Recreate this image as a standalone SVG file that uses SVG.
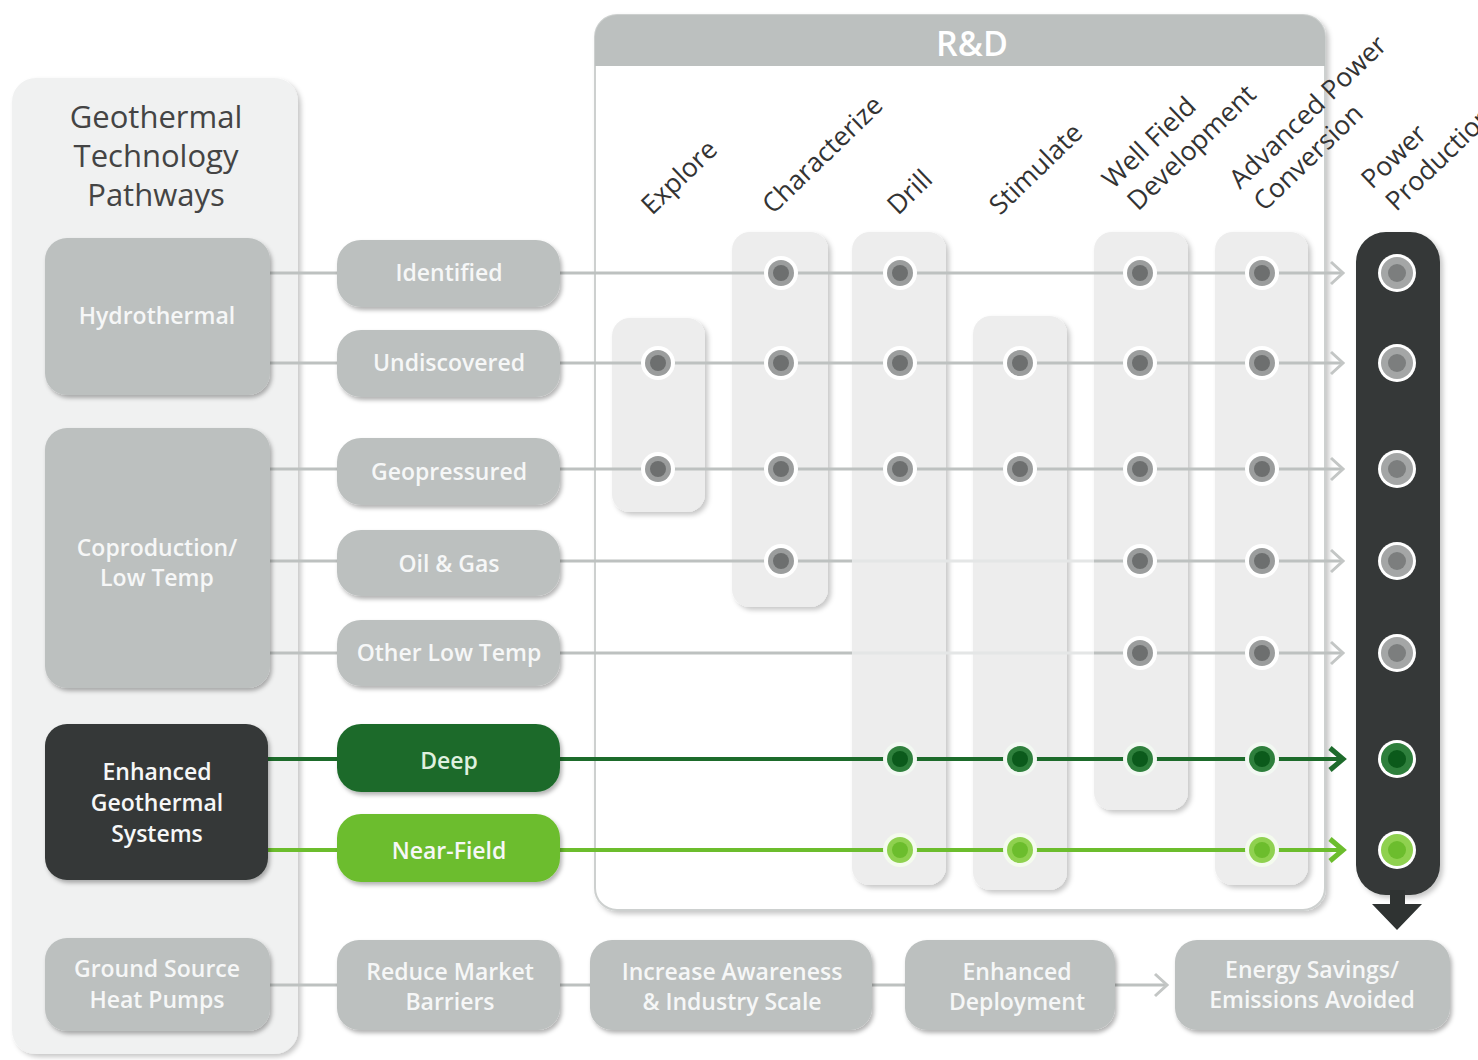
<svg xmlns="http://www.w3.org/2000/svg" xmlns:xlink="http://www.w3.org/1999/xlink" width="1478" height="1060" viewBox="0 0 1478 1060">
<style>
  .lbl { font-family: "Open Sans", "Liberation Sans", sans-serif; font-weight: 600; font-size: 23px; fill: #f6f7f7; text-anchor: middle; }
  .hdr { font-family: "Open Sans", "Liberation Sans", sans-serif; font-size: 26.5px; fill: #333; }
  .title { font-family: "Open Sans", "Liberation Sans", sans-serif; font-size: 31px; fill: #444; text-anchor: middle; }
  .gbox { fill: #bcc0bf; }
  .col { fill: #ededed; }
  .gl { stroke: #bdc1c0; stroke-width: 3; fill: none; }
  .gl2 { stroke: #e4e6e6; stroke-width: 3; fill: none; }
  .dg { stroke: #1d6b2b; stroke-width: 4; fill: none; }
  .lg { stroke: #6cbd2d; stroke-width: 4; fill: none; }
  .chev { stroke: #c3c6c5; stroke-width: 3; fill: none; }
</style>
<defs>
  <filter id="sh" x="-20%" y="-20%" width="140%" height="140%">
    <feDropShadow dx="2" dy="3" stdDeviation="2" flood-color="#000" flood-opacity="0.3"/>
  </filter>
  <filter id="shs" x="-20%" y="-20%" width="140%" height="140%">
    <feDropShadow dx="3" dy="3" stdDeviation="2.5" flood-color="#000" flood-opacity="0.22"/>
  </filter>
  <g id="dotG">
    <circle r="17" fill="#ffffff"/>
    <circle r="13" fill="#9b9d9d"/>
    <circle r="8" fill="#6d6f6f"/>
  </g>
  <g id="dotD">
    <circle r="17" fill="#f2f8f2"/>
    <circle r="13" fill="#2e7f3c"/>
    <circle r="8" fill="#0b5a1b"/>
  </g>
  <g id="dotL">
    <circle r="17" fill="#f4fbee"/>
    <circle r="13" fill="#8fd14f"/>
    <circle r="8" fill="#6cbd2d"/>
  </g>
  <g id="pG">
    <circle r="19" fill="#ffffff"/>
    <circle r="16" fill="#a4a6a6"/>
    <circle r="9" fill="#7c7e7e"/>
  </g>
  <g id="pD">
    <circle r="19" fill="#ffffff"/>
    <circle r="16" fill="#2e7f3c"/>
    <circle r="9" fill="#0b5a1b"/>
  </g>
  <g id="pL">
    <circle r="19" fill="#ffffff"/>
    <circle r="16" fill="#8fd14f"/>
    <circle r="9" fill="#6cbd2d"/>
  </g>
</defs>

<rect width="1478" height="1060" fill="#ffffff"/>

<!-- Left panel -->
<g id="pathways-panel">
  <rect x="12" y="78" width="286" height="976" rx="24" fill="#f0f1f1" filter="url(#shs)"/>
  <text class="title" x="156" y="128">Geothermal</text>
  <text class="title" x="156" y="167">Technology</text>
  <text class="title" x="156" y="206">Pathways</text>
</g>

<!-- R&D panel -->
<g id="rd-panel">
  <rect x="595" y="15" width="730" height="895" rx="22" fill="#ffffff" stroke="#cdd0cf" stroke-width="2" filter="url(#shs)"/>
  <path d="M595,66 V37 A22,22 0 0 1 617,15 H1303 A22,22 0 0 1 1325,37 V66 Z" fill="#bcc0bf"/>
  <text x="972" y="56" font-family="Open Sans, Liberation Sans, sans-serif" font-size="34" font-weight="600" fill="#ffffff" text-anchor="middle">R&amp;D</text>
</g>

<!-- Column headers -->
<g id="headers">
  <text class="hdr" transform="translate(652,216) rotate(-44)">Explore</text>
  <text class="hdr" transform="translate(773,215) rotate(-44)">Characterize</text>
  <text class="hdr" transform="translate(898,216) rotate(-44)">Drill</text>
  <text class="hdr" transform="translate(1000,216) rotate(-44)">Stimulate</text>
  <text class="hdr" transform="translate(1113,190) rotate(-44)"><tspan x="0" y="0">Well Field</tspan><tspan x="3" y="33">Development</tspan></text>
  <text class="hdr" transform="translate(1240,190) rotate(-44)"><tspan x="0" y="0">Advanced Power</tspan><tspan x="2" y="33">Conversion</tspan></text>
  <text class="hdr" transform="translate(1372,190) rotate(-44)"><tspan x="0" y="0">Power</tspan><tspan x="2" y="33">Production</tspan></text>
</g>

<!-- Stage columns -->
<g id="col-explore"><rect class="col" x="612" y="318" width="93" height="194" rx="18" filter="url(#shs)"/></g>
<g id="col-characterize"><rect class="col" x="732" y="232" width="96" height="375" rx="18" filter="url(#shs)"/></g>
<g id="col-drill"><rect class="col" x="852" y="232" width="94" height="653" rx="18" filter="url(#shs)"/></g>
<g id="col-stimulate"><rect class="col" x="973" y="316" width="94" height="574" rx="18" filter="url(#shs)"/></g>
<g id="col-wellfield"><rect class="col" x="1094" y="232" width="94" height="578" rx="18" filter="url(#shs)"/></g>
<g id="col-conversion"><rect class="col" x="1215" y="232" width="93" height="653" rx="18" filter="url(#shs)"/></g>
<g id="col-power">
  <rect x="1356" y="232" width="84" height="663" rx="30" fill="#343837" filter="url(#shs)"/>
  <path d="M1390,890 H1405 V904 H1422 L1397,930 L1372,904 H1390 Z" fill="#2f3332"/>
</g>

<!-- Connectors -->
<g id="connectors">
  <path class="gl" d="M270,273 H337 M270,363 H337 M270,469 H337 M270,561 H337 M270,653 H337 M270,985 H337"/>
  <path class="dg" d="M268,759 H337"/>
  <path class="lg" d="M268,850 H337"/>
  <path class="gl" d="M560,273 H1342"/>
  <path class="gl" d="M560,363 H1342"/>
  <path class="gl" d="M560,469 H1342"/>
  <path class="gl" d="M560,561 H852"/><path class="gl2" d="M852,561 H1094"/><path class="gl" d="M1094,561 H1342"/>
  <path class="gl" d="M560,653 H852"/><path class="gl2" d="M852,653 H1094"/><path class="gl" d="M1094,653 H1342"/>
  <path class="dg" d="M560,759 H1340"/>
  <path class="lg" d="M560,850 H1340"/>
  <path class="chev" d="M1331,262 L1343,273 L1331,284 M1331,352 L1343,363 L1331,374 M1331,458 L1343,469 L1331,480 M1331,550 L1343,561 L1331,572 M1331,642 L1343,653 L1331,664"/>
  <path d="M1330,748 L1343,759 L1330,770" stroke="#1d6b2b" stroke-width="5" fill="none"/>
  <path d="M1330,839 L1343,850 L1330,861" stroke="#6cbd2d" stroke-width="5" fill="none"/>
  <path class="gl" d="M560,985 H590 M872,985 H905 M1115,985 H1166"/>
  <path class="chev" d="M1155,974 L1167,985 L1155,996"/>
</g>

<!-- Stage dots -->
<g id="dots">
  <use xlink:href="#dotG" x="781" y="273"/><use xlink:href="#dotG" x="900" y="273"/><use xlink:href="#dotG" x="1140" y="273"/><use xlink:href="#dotG" x="1262" y="273"/>
  <use xlink:href="#dotG" x="658" y="363"/><use xlink:href="#dotG" x="781" y="363"/><use xlink:href="#dotG" x="900" y="363"/><use xlink:href="#dotG" x="1020" y="363"/><use xlink:href="#dotG" x="1140" y="363"/><use xlink:href="#dotG" x="1262" y="363"/>
  <use xlink:href="#dotG" x="658" y="469"/><use xlink:href="#dotG" x="781" y="469"/><use xlink:href="#dotG" x="900" y="469"/><use xlink:href="#dotG" x="1020" y="469"/><use xlink:href="#dotG" x="1140" y="469"/><use xlink:href="#dotG" x="1262" y="469"/>
  <use xlink:href="#dotG" x="781" y="561"/><use xlink:href="#dotG" x="1140" y="561"/><use xlink:href="#dotG" x="1262" y="561"/>
  <use xlink:href="#dotG" x="1140" y="653"/><use xlink:href="#dotG" x="1262" y="653"/>
  <use xlink:href="#dotD" x="900" y="759"/><use xlink:href="#dotD" x="1020" y="759"/><use xlink:href="#dotD" x="1140" y="759"/><use xlink:href="#dotD" x="1262" y="759"/>
  <use xlink:href="#dotL" x="900" y="850"/><use xlink:href="#dotL" x="1020" y="850"/><use xlink:href="#dotL" x="1262" y="850"/>
  <use xlink:href="#pG" x="1397" y="273"/><use xlink:href="#pG" x="1397" y="363"/><use xlink:href="#pG" x="1397" y="469"/><use xlink:href="#pG" x="1397" y="561"/><use xlink:href="#pG" x="1397" y="653"/>
  <use xlink:href="#pD" x="1397" y="759"/><use xlink:href="#pL" x="1397" y="850"/>
</g>

<!-- Pathway nodes -->
<g id="hydrothermal"><rect class="gbox" x="45" y="238" width="225" height="157" rx="22" filter="url(#sh)"/><text class="lbl" x="157" y="324">Hydrothermal</text></g>
<g id="coproduction"><rect class="gbox" x="45" y="428" width="225" height="260" rx="22" filter="url(#sh)"/><text class="lbl" x="157" y="556">Coproduction/</text><text class="lbl" x="157" y="586">Low Temp</text></g>
<g id="egs"><rect x="45" y="724" width="223" height="156" rx="22" fill="#343837" filter="url(#sh)"/><text class="lbl" x="157" y="780">Enhanced</text><text class="lbl" x="157" y="811">Geothermal</text><text class="lbl" x="157" y="842">Systems</text></g>
<g id="gshp"><rect class="gbox" x="45" y="938" width="225" height="93" rx="22" filter="url(#sh)"/><text class="lbl" x="157" y="977">Ground Source</text><text class="lbl" x="157" y="1008">Heat Pumps</text></g>

<!-- Subtype nodes -->
<g id="identified"><rect class="gbox" x="337" y="240" width="223" height="67" rx="24" filter="url(#sh)"/><text class="lbl" x="449" y="281">Identified</text></g>
<g id="undiscovered"><rect class="gbox" x="337" y="330" width="223" height="67" rx="24" filter="url(#sh)"/><text class="lbl" x="449" y="371">Undiscovered</text></g>
<g id="geopressured"><rect class="gbox" x="337" y="438" width="223" height="67" rx="24" filter="url(#sh)"/><text class="lbl" x="449" y="480">Geopressured</text></g>
<g id="oilgas"><rect class="gbox" x="337" y="530" width="223" height="66" rx="24" filter="url(#sh)"/><text class="lbl" x="449" y="572">Oil &amp; Gas</text></g>
<g id="otherlow"><rect class="gbox" x="337" y="620" width="223" height="66" rx="24" filter="url(#sh)"/><text class="lbl" x="449" y="661">Other Low Temp</text></g>
<g id="deep"><rect x="337" y="724" width="223" height="68" rx="24" fill="#1d6b2b" filter="url(#sh)"/><text class="lbl" x="449" y="769" style="fill:#dff0df">Deep</text></g>
<g id="nearfield"><rect x="337" y="814" width="223" height="68" rx="24" fill="#6cbd2d" filter="url(#sh)"/><text class="lbl" x="449" y="859">Near-Field</text></g>

<!-- Deployment chain -->
<g id="reduce"><rect class="gbox" x="337" y="940" width="223" height="90" rx="22" filter="url(#sh)"/><text class="lbl" x="450" y="980">Reduce Market</text><text class="lbl" x="450" y="1010">Barriers</text></g>
<g id="awareness"><rect class="gbox" x="590" y="940" width="282" height="90" rx="22" filter="url(#sh)"/><text class="lbl" x="732" y="980">Increase Awareness</text><text class="lbl" x="732" y="1010">&amp; Industry Scale</text></g>
<g id="deployment"><rect class="gbox" x="905" y="940" width="210" height="90" rx="22" filter="url(#sh)"/><text class="lbl" x="1017" y="980">Enhanced</text><text class="lbl" x="1017" y="1010">Deployment</text></g>
<g id="savings"><rect class="gbox" x="1175" y="940" width="275" height="90" rx="22" filter="url(#sh)"/><text class="lbl" x="1312" y="978">Energy Savings/</text><text class="lbl" x="1312" y="1008">Emissions Avoided</text></g>
</svg>
